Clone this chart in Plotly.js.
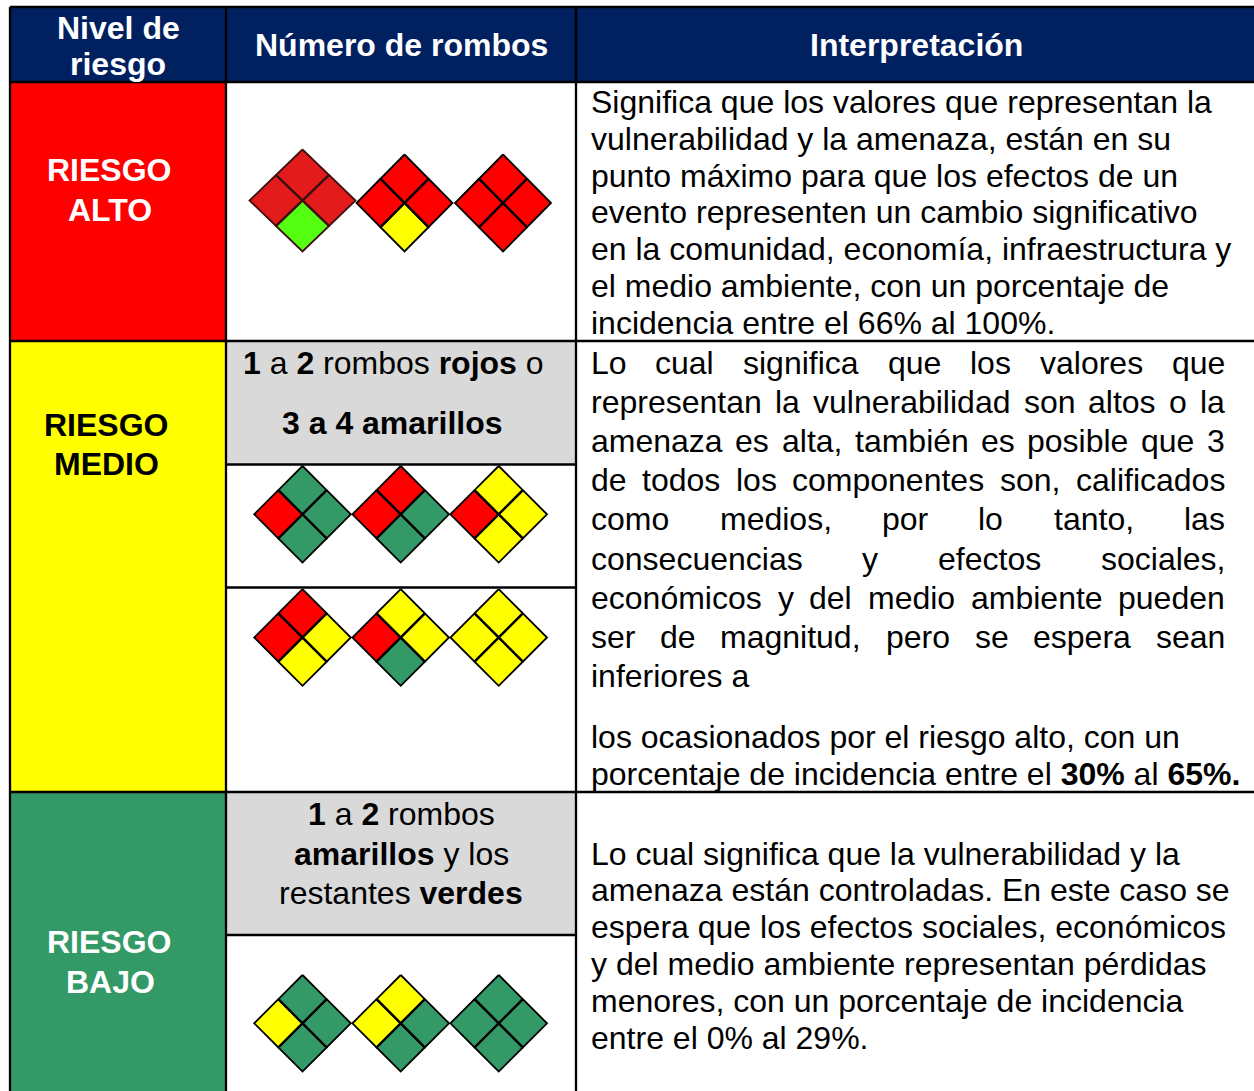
<!DOCTYPE html>
<html><head><meta charset="utf-8">
<script src="https://cdn.plot.ly/plotly-3.0.1.min.js"></script>
<style>html,body{margin:0;padding:0;background:#fff}#c{width:1254px;height:1091px}</style></head>
<body><div id="c"></div>
<script>
// ---- content ----
const headerNivel = ['Nivel de', 'riesgo'];
const headerRombos = 'Número de rombos';
const headerInterp = 'Interpretación';
const labelAlto = ['RIESGO', 'ALTO'];
const labelMedio = ['RIESGO', 'MEDIO'];
const labelBajo = ['RIESGO', 'BAJO'];
const altoText = [
 'Significa que los valores que representan la',
 'vulnerabilidad y la amenaza, están en su',
 'punto máximo para que los efectos de un',
 'evento representen un cambio significativo',
 'en la comunidad, economía, infraestructura y',
 'el medio ambiente, con un porcentaje de',
 'incidencia entre el 66% al 100%.'];
const medioJustified = [
 'Lo cual significa que los valores que',
 'representan la vulnerabilidad son altos o la',
 'amenaza es alta, también es posible que 3',
 'de todos los componentes son, calificados',
 'como medios, por lo tanto, las',
 'consecuencias y efectos sociales,',
 'económicos y del medio ambiente pueden',
 'ser de magnitud, pero se espera sean'];
const medioPlain = ['inferiores a', 'los ocasionados por el riesgo alto, con un',
 'porcentaje de incidencia entre el <b>30%</b> al <b>65%.</b>'];
const bajoText = [
 'Lo cual significa que la vulnerabilidad y la',
 'amenaza están controladas. En este caso se',
 'espera que los efectos sociales, económicos',
 'y del medio ambiente representan pérdidas',
 'menores, con un porcentaje de incidencia',
 'entre el 0% al 29%.'];
const medioRule = ['<b>1</b> a <b>2</b> rombos <b>rojos</b> o', '<b>3 a 4 amarillos</b>'];
const bajoRule = ['<b>1</b> a <b>2</b> rombos', '<b>amarillos</b> y los', 'restantes <b>verdes</b>'];
// quadrants of each diamond: top, right, bottom, left
const diamondsAlto   = ['ddgd', 'rryr', 'rrrr'];
const diamondsMedio1 = ['vvvr', 'rvvr', 'yyyr'];
const diamondsMedio2 = ['ryyr', 'yyvr', 'yyyy'];
const diamondsBajo   = ['vvvy', 'yvvy', 'vvvv'];

// ---- style and layout constants ----
const NAVY='#002060', RED='#ff0000', YEL='#ffff00', GRN='#339966', GRAY='#d9d9d9';
const swatch = {r:RED, y:YEL, v:GRN, d:'#e31b1b', g:'#55ff11'};
const colX = [10, 226, 576, 1254];
const rowY = {top:7, head:82, alto:341, m1:464.5, m2:587.5, medio:792, b1:935, end:1091};
const FONT = 'Liberation Sans, Arial, sans-serif';
const FS = 32;

const shapes = [];
function rect(x0,x1,y0,y1,fill){shapes.push({type:'rect',xref:'x',yref:'y',x0,x1,y0,y1,fillcolor:fill,line:{width:0},layer:'below'});}
function line(x0,y0,x1,y1,w){shapes.push({type:'line',xref:'x',yref:'y',x0,x1,y0,y1,line:{color:'#000',width:w||2.3},layer:'below'});}

rect(colX[0],colX[3],rowY.top,rowY.head,NAVY);
rect(colX[0],colX[1],rowY.head,rowY.alto,RED);
rect(colX[0],colX[1],rowY.alto,rowY.medio,YEL);
rect(colX[0],colX[1],rowY.medio,rowY.end,GRN);
rect(colX[1],colX[2],rowY.alto,rowY.m1,GRAY);
rect(colX[1],colX[2],rowY.medio,rowY.b1,GRAY);
[rowY.top,rowY.head,rowY.alto,rowY.medio].forEach(y=>line(colX[0],y,colX[3],y));
[rowY.m1,rowY.m2,rowY.b1].forEach(y=>line(colX[1],y,colX[2],y));
colX.slice(0,3).forEach(x=>line(x,rowY.top,x,rowY.end));

// diamonds
const paths = {};
const cross = {x:[],y:[]}, crossDark = {x:[],y:[]};
function addQuad(c,xs,ys){ (paths[c]=paths[c]||{x:[],y:[]}); const p=paths[c]; p.x.push(...xs,xs[0],null); p.y.push(...ys,ys[0],null);}
function diamond(code,cx,cy,hx,hy){
  const q=[[[cx,cx+hx/2,cx,cx-hx/2],[cy-hy,cy-hy/2,cy,cy-hy/2]],
           [[cx+hx/2,cx+hx,cx+hx/2,cx],[cy-hy/2,cy,cy+hy/2,cy]],
           [[cx,cx+hx/2,cx,cx-hx/2],[cy,cy+hy/2,cy+hy,cy+hy/2]],
           [[cx-hx/2,cx,cx-hx/2,cx-hx],[cy-hy/2,cy,cy+hy/2,cy]]];
  [...code].forEach((c,i)=>addQuad(c,q[i][0],q[i][1]));
  const t = code.includes('d') ? crossDark : cross;
  t.x.push(cx-hx/2,cx+hx/2,null,cx+hx/2,cx-hx/2,null);
  t.y.push(cy-hy/2,cy+hy/2,null,cy-hy/2,cy+hy/2,null);
}
const centers=[302.5,400.7,498.7];
diamond(diamondsAlto[0],302.5,200.5,53,51);
diamond(diamondsAlto[1],404.5,203,48,48.5);
diamond(diamondsAlto[2],503,203,48,48.5);
diamondsMedio1.forEach((d,i)=>diamond(d,centers[i],514.3,48.3,48.3));
diamondsMedio2.forEach((d,i)=>diamond(d,centers[i],637.5,48.3,48.3));
diamondsBajo.forEach((d,i)=>diamond(d,centers[i],1023.3,48.3,48.3));
const traces = Object.keys(paths).map(c=>({type:'scatter',mode:'lines',x:paths[c].x,y:paths[c].y,fill:'toself',
  fillcolor:swatch[c],line:{color:(c==='d'||c==='g')?'#3f1010':'#000',width:1.8},hoverinfo:'skip',showlegend:false}));
traces.push({type:'scatter',mode:'lines',x:cross.x,y:cross.y,line:{color:'#000',width:2.3},hoverinfo:'skip',showlegend:false});
traces.push({type:'scatter',mode:'lines',x:crossDark.x,y:crossDark.y,line:{color:'#3f1010',width:2.3},hoverinfo:'skip',showlegend:false});

// text
const ann=[];
function txt(text,x,y,anchor,color){ann.push({text,x,y,xref:'x',yref:'y',xanchor:anchor||'left',yanchor:'middle',showarrow:false,
  borderpad:0,borderwidth:0,align:'center',font:{family:FONT,size:FS,color:color||'#000'}});}
const ctx=document.createElement('canvas').getContext('2d'); ctx.font=FS+'px "Liberation Sans"';
function justify(s,x0,x1,y){const w=s.split(' ');const tot=w.reduce((a,b)=>a+ctx.measureText(b).width,0);
  const gap=(x1-x0-tot)/(w.length-1);let x=x0;w.forEach(t=>{txt(t,x,y);x+=ctx.measureText(t).width+gap;});}

const WH='#ffffff';
const b=s=>'<b>'+s+'</b>';
txt(b(headerNivel[0]),118,28,'center',WH);
txt(b(headerNivel[1]),118,64,'center',WH);
txt(b(headerRombos),401,45,'center',WH);
txt(b(headerInterp),916,45,'center',WH);
txt(b(labelAlto[0]),109,170,'center',WH);
txt(b(labelAlto[1]),109.5,209.5,'center',WH);
txt(b(labelMedio[0]),106,425,'center');
txt(b(labelMedio[1]),106.5,464,'center');
txt(b(labelBajo[0]),109,942,'center',WH);
txt(b(labelBajo[1]),110,982,'center',WH);

const altoY=[102,139,176,212,249,286,323];
altoText.forEach((s,i)=>txt(s,591,altoY[i]));
const medY=[363,402,441,480,519,559,598,637];
medioJustified.forEach((s,i)=>justify(s,591,1225,medY[i]));
[676,737,774].forEach((y,i)=>txt(medioPlain[i],591,y));
const bajoY=[854,890,927,964,1001,1038];
bajoText.forEach((s,i)=>txt(s,591,bajoY[i]));
txt(medioRule[0],393,363,'center'); txt(medioRule[1],392,423,'center');
[814,854,893].forEach((y,i)=>txt(bajoRule[i],401,y,'center'));

Plotly.newPlot('c',traces,{
  width:1254,height:1091,margin:{l:0,r:0,t:0,b:0},paper_bgcolor:'#fff',plot_bgcolor:'#fff',showlegend:false,
  xaxis:{range:[0,1254],visible:false,fixedrange:true},
  yaxis:{range:[1091,0],visible:false,fixedrange:true},
  shapes,annotations:ann
},{displayModeBar:false,staticPlot:true});
</script></body></html>
